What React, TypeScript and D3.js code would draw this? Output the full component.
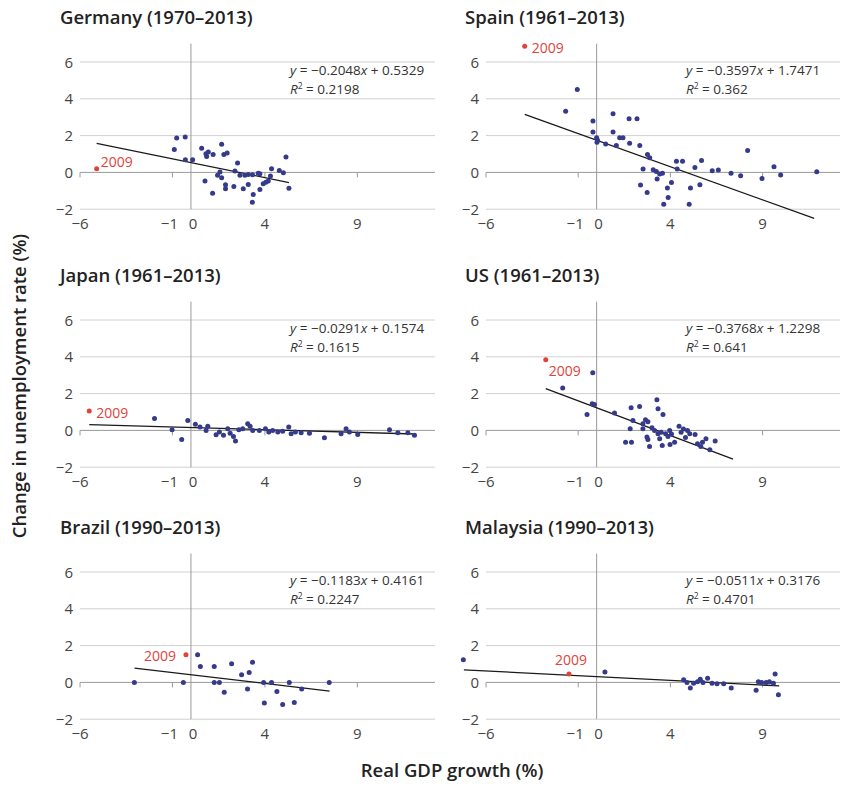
import React from 'react';
import * as d3 from 'd3';

type Pt = [number, number];

// panel titles and regression results
const titles = [
  'Germany (1970–2013)', 'Spain (1961–2013)',
  'Japan (1961–2013)', 'US (1961–2013)',
  'Brazil (1990–2013)', 'Malaysia (1990–2013)'
];
const slopes = ['−0.2048', '−0.3597', '−0.0291', '−0.3768', '−0.1183', '−0.0511'];
const slopeVals = [-0.2048, -0.3597, -0.0291, -0.3768, -0.1183, -0.0511];
const intercepts = ['0.5329', '1.7471', '0.1574', '1.2298', '0.4161', '0.3176'];
const interceptVals = [0.5329, 1.7471, 0.1574, 1.2298, 0.4161, 0.3176];
const r2Labels = ['0.2198', '0.362', '0.1615', '0.641', '0.2247', '0.4701'];
const fitRanges: Pt[] = [[-5.1, 5.3], [-3.9, 11.8], [-5.5, 12.1], [-2.76, 7.4], [-3.05, 7.5], [-7.2, 9.9]];

// 2009 observation, highlighted in red
const points2009: Pt[] = [[-5.1, 0.2], [-3.9, 6.85], [-5.5, 1.05], [-2.76, 3.84], [-0.27, 1.5], [-1.5, 0.46]];

const xTicks = [-6, -1, 0, 4, 9];
const yTicks = [-2, 0, 2, 4, 6];

const germany: Pt[] = [
  [-0.77, 1.87], [-0.31, 1.93], [-0.9, 1.24], [-0.3, 0.69], [0.09, 0.69], [0.58, 1.31],
  [0.81, 1.02], [0.94, 1.11], [1.2, 0.97], [0.85, 0.87], [1.66, 1.53], [1.78, 0.97],
  [1.96, 1.05], [2.52, 0.51], [2.38, 0.07], [1.57, 0.02], [1.44, -0.16], [1.66, -0.29],
  [0.76, -0.47], [1.17, -1.13], [1.87, -0.67], [1.87, -0.89], [2.32, -0.77], [2.83, -0.89],
  [2.92, -0.16], [3.1, -0.11], [3.33, -0.13], [3.1, -0.66], [3.37, -1.2], [3.32, -1.62],
  [3.73, -0.93], [3.73, -0.07], [3.91, -0.62], [4.05, -0.53], [4.18, -0.47], [4.36, 0.2],
  [4.78, 0.11], [5.0, -0.02], [5.14, 0.84], [5.3, -0.86], [4.3, -0.2], [2.65, -0.15], [3.64, -0.05]
];

const spain: Pt[] = [
  [-1.05, 4.5], [-1.68, 3.33], [-0.2, 2.79], [-0.2, 2.19], [0, 1.88], [0.02, 1.64], [0.05, 1.75],
  [0.49, 1.55], [0.89, 3.19], [0.89, 2.19], [1.07, 1.46], [1.25, 1.88], [1.43, 1.88], [1.76, 2.92],
  [2.19, 2.92], [1.79, 1.58], [2.34, 1.46], [2.76, 0.97], [2.88, 0.79], [2.52, 0.19], [2.38, -0.69],
  [2.74, -1.09], [3.07, 0.15], [3.24, 0.05], [3.42, -0.09], [3.28, -0.36], [3.57, -0.05], [4.06, -0.55],
  [3.84, -0.85], [3.88, -1.37], [3.64, -1.73], [4.33, 0.6], [4.66, 0.6], [4.37, 0.18], [5.02, -1.73],
  [5.09, -0.85], [5.33, 0.27], [5.6, -0.67], [5.69, 0.64], [6.27, 0.09], [6.6, 0.13], [7.29, -0.05],
  [7.81, -0.18], [8.19, 1.19], [8.97, -0.33], [9.62, 0.31], [9.98, -0.14], [11.94, 0.04]
];

const japan: Pt[] = [
  [-1.97, 0.64], [-1.02, 0.04], [-0.5, -0.5], [-0.17, 0.54], [0.24, 0.33], [0.49, 0.18], [0.91, 0.22],
  [0.82, 0], [1.36, -0.23], [1.54, -0.09], [1.76, -0.27], [1.99, 0.09], [2.12, -0.15], [2.3, -0.33],
  [2.41, -0.58], [2.59, 0.04], [2.8, 0.09], [3.07, 0.36], [3.2, 0.22], [3.34, 0], [3.7, 0],
  [4.03, 0.09], [4.21, -0.09], [4.42, 0], [4.7, -0.09], [4.96, -0.04], [5.29, 0.18], [5.42, -0.18],
  [5.65, -0.09], [5.96, -0.13], [6.41, -0.15], [7.22, -0.4], [8.12, -0.18], [8.39, 0.09], [8.57, -0.09],
  [9.02, -0.22], [10.74, 0.04], [11.19, -0.13], [11.73, -0.13], [12.09, -0.27]
];

const us: Pt[] = [
  [-1.84, 2.3], [-0.21, 3.13], [-0.52, 0.87], [-0.24, 1.45], [-0.12, 1.41], [0.97, 0.94], [1.87, 1.23],
  [2.33, 1.3], [1.97, 0.54], [1.82, 0.09], [1.57, -0.64], [1.89, -0.64], [2.51, 0.36], [2.51, 0.09],
  [2.65, 0.58], [2.78, 0.47], [2.73, -0.36], [2.78, -0.5], [2.87, -0.87], [3.0, 0.15], [3.14, 0],
  [3.27, 1.67], [3.33, 1.18], [3.6, 0.87], [3.33, -0.18], [3.5, -0.1], [3.42, -0.45], [3.56, -0.82],
  [3.74, -0.18], [3.87, -0.33], [3.96, 0], [4.06, -0.2], [3.98, -0.76], [4.23, -0.64], [4.47, 0.22],
  [4.58, -0.1], [4.71, 0.07], [4.82, -0.38], [4.93, 0], [5.05, -0.18], [5.34, -0.22], [5.47, -0.73],
  [5.65, -0.87], [5.74, -0.64], [5.93, -0.45], [6.14, -1.05], [6.43, -0.58]
];

const brazil: Pt[] = [
  [-3.06, 0], [-0.41, 0], [0.36, 1.5], [0.51, 0.87], [1.26, 0.87], [1.26, 0], [1.54, 0], [1.8, -0.54],
  [2.2, 1.02], [2.74, 0.42], [3.06, -0.36], [3.15, 0.54], [3.33, 1.09], [3.93, 0], [3.97, -1.12],
  [4.36, 0], [4.65, -0.49], [4.96, -1.2], [5.32, 0], [5.59, -1.09], [5.99, -0.36], [7.48, 0]
];

const malaysia: Pt[] = [
  [-7.23, 1.23], [0.45, 0.57], [4.72, 0.15], [4.9, 0], [5.08, -0.31], [5.26, -0.04], [5.47, 0.04],
  [5.62, 0.17], [5.77, 0], [6.02, 0.22], [6.26, -0.04], [6.53, -0.07], [6.89, -0.07], [7.3, -0.31],
  [8.65, -0.43], [8.77, 0.04], [8.95, 0], [9.19, 0], [9.37, 0.04], [9.59, -0.04], [9.68, 0.46], [9.86, -0.67]
];

const series = [germany, spain, japan, us, brazil, malaysia];

// where the red "2009" label sits relative to its dot
const labelPos = [
  { dx: 4, dy: -2, anchor: 'start' },
  { dx: 7, dy: 7, anchor: 'start' },
  { dx: 7, dy: 7, anchor: 'start' },
  { dx: 3, dy: 16, anchor: 'start' },
  { dx: -10, dy: 6, anchor: 'end' },
  { dx: 2, dy: -9, anchor: 'middle' }
];

const FONT = '"Open Sans", "Noto Sans", sans-serif';
const BLUE = '#353a8a';
const RED = '#e0433a';

const colLeft = [80, 486];
const colRight = [435, 840];
const rowTop = [62, 320, 572];

function Panel({ i }: { i: number }) {
  const col = i % 2;
  const row = Math.floor(i / 2);
  const x = d3.scaleLinear().domain([-6, 13.2]).range([colLeft[col], colRight[col]]);
  const y = d3.scaleLinear().domain([-2, 6]).range([rowTop[row] + 147.2, rowTop[row]]);
  const line = d3.line<Pt>().x(d => x(d[0])).y(d => y(d[1]));
  const fit: Pt[] = fitRanges[i].map(v => [v, slopeVals[i] * v + interceptVals[i]] as Pt);
  const p9 = points2009[i];
  const lp = labelPos[i];
  const eqX = colLeft[col] + (col === 0 ? 210 : 200);

  return (
    <g>
      <text x={col === 0 ? 60 : 465} y={y(0) - 148} fontFamily={FONT} fontWeight={600} fontSize={18.5} fill="#222">
        {titles[i]}
      </text>
      {yTicks.filter(t => t !== 0).map(t => (
        <line key={t} x1={x(-6)} x2={colRight[col]} y1={y(t)} y2={y(t)} stroke="#d0d0d0" strokeWidth={1} />
      ))}
      <line x1={x(-6)} x2={colRight[col]} y1={y(0)} y2={y(0)} stroke="#9a9a9a" strokeWidth={1} />
      {xTicks.filter(t => t !== 0).map(t => (
        <line key={t} x1={x(t)} x2={x(t)} y1={y(0)} y2={y(0) + 5} stroke="#9a9a9a" strokeWidth={1} />
      ))}
      <line x1={x(0)} x2={x(0)} y1={y(7)} y2={y(-2)} stroke="#9a9a9a" strokeWidth={1} />
      {yTicks.map(t => (
        <text key={t} x={colLeft[col] - 7} y={y(t) + 5.5} textAnchor="end" fontFamily={FONT} fontSize={15} fill="#444">
          {t < 0 ? '−' + Math.abs(t) : t}
        </text>
      ))}
      {xTicks.map(t => (
        <text key={t} x={x(t) + (t === -1 ? -3 : t === 0 ? 2 : 0)} y={y(-2) + 20} textAnchor="middle"
          fontFamily={FONT} fontSize={15} fill="#444">
          {t < 0 ? '−' + Math.abs(t) : t}
        </text>
      ))}
      <path d={line(fit) || ''} stroke="#1a1a1a" strokeWidth={1.3} fill="none" />
      {series[i].map((d, k) => (
        <circle key={k} cx={x(d[0])} cy={y(d[1])} r={2.5} fill={BLUE} />
      ))}
      <circle cx={x(p9[0])} cy={y(p9[1])} r={2.5} fill={RED} />
      <text x={x(p9[0]) + lp.dx} y={y(p9[1]) + lp.dy} textAnchor={lp.anchor as any}
        fontFamily={FONT} fontSize={14} fill={RED}>2009</text>
      <text x={eqX} y={y(0) - 97} fontFamily={FONT} fontSize={13.5} fill="#333">
        <tspan fontStyle="italic">y</tspan>{' = ' + slopes[i]}<tspan fontStyle="italic">x</tspan>{' + ' + intercepts[i]}
      </text>
      <text x={eqX} y={y(0) - 78} fontFamily={FONT} fontSize={13.5} fill="#333">
        <tspan fontStyle="italic">R</tspan><tspan dy={-5} fontSize={8.5}>2</tspan><tspan dy={5}>{' = ' + r2Labels[i]}</tspan>
      </text>
    </g>
  );
}

export default function App() {
  return (
    <svg width={848} height={789} style={{ position: 'absolute', left: 0, top: 0, background: '#fff' }}>
      <rect width={848} height={789} fill="#fff" />
      {titles.map((t, i) => <Panel key={t} i={i} />)}
      <text transform="translate(26,386) rotate(-90)" textAnchor="middle" fontFamily={FONT}
        fontWeight={600} fontSize={18.5} fill="#222">Change in unemployment rate (%)</text>
      <text x={452} y={777} textAnchor="middle" fontFamily={FONT} fontWeight={600} fontSize={18.5} fill="#222">
        Real GDP growth (%)
      </text>
    </svg>
  );
}
